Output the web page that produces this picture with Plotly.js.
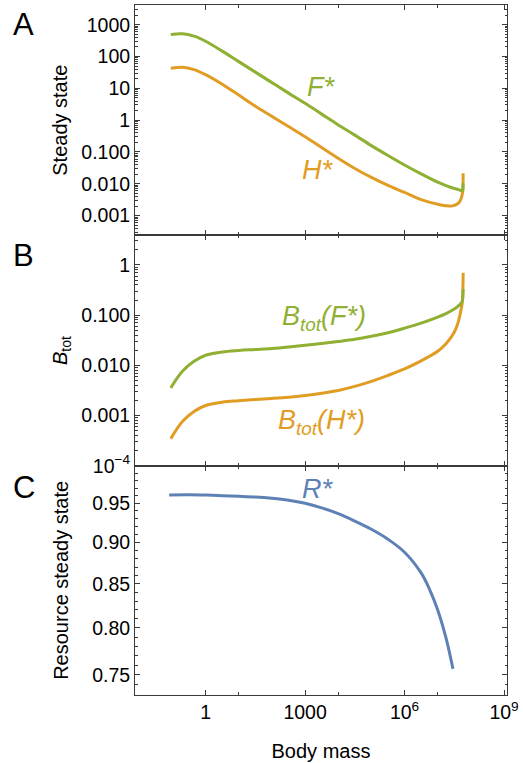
<!DOCTYPE html>
<html><head><meta charset="utf-8">
<script src="https://cdn.plot.ly/plotly-3.0.1.min.js"></script>
<style>html,body{margin:0;padding:0;background:#fff}#chart{width:523px;height:763px}</style>
</head><body><div id="chart"></div>
<script>
// Panel A: steady states F* and H* vs body mass
const massF = [0.0891, 0.1995, 0.4467, 1, 3.162, 10, 31.62, 100, 316.2, 1000, 3162, 1e4, 31620, 1e5, 3.162e5, 1e6, 3.162e6, 1e7, 1.778e7, 3.162e7, 4.467e7, 5.370e7, 5.689e7, 5.794e7, 5.834e7];
const Fstar = [489.8, 518.8, 436.5, 302.0, 147.9, 69.18, 32.36, 15.14, 7.079, 3.388, 1.549, 0.7079, 0.3388, 0.1585, 0.07762, 0.03890, 0.02042, 0.01122, 0.008710, 0.007079, 0.006457, 0.006026, 0.006310, 0.007586, 0.01047];
const massH = [0.0891, 0.1995, 0.4467, 1, 3.162, 10, 31.62, 100, 316.2, 1000, 3162, 1e4, 31620, 1e5, 3.162e5, 1e6, 3.162e6, 1e7, 1.778e7, 2.818e7, 3.981e7, 4.786e7, 5.248e7, 5.559e7, 5.728e7, 5.808e7, 5.848e7];
const Hstar = [42.66, 46.24, 38.90, 26.92, 13.49, 6.166, 2.754, 1.318, 0.6310, 0.3020, 0.1380, 0.06310, 0.03020, 0.01585, 0.008913, 0.005370, 0.003162, 0.002265, 0.002042, 0.002018, 0.002344, 0.002951, 0.003802, 0.005012, 0.006918, 0.01122, 0.02138];
// Panel B: total biomass
const massBF = [0.0891, 0.1995, 0.4467, 1, 3.162, 10, 31.62, 100, 316.2, 1000, 3162, 1e4, 31620, 1e5, 3.162e5, 1e6, 3.162e6, 1e7, 1.778e7, 3.162e7, 4.467e7, 5.248e7, 5.623e7, 5.781e7, 5.848e7];
const BtotF = [0.003548, 0.007586, 0.01202, 0.01585, 0.01841, 0.01972, 0.02065, 0.02163, 0.02317, 0.02512, 0.02723, 0.02985, 0.03311, 0.03802, 0.04467, 0.05495, 0.06918, 0.09120, 0.1072, 0.1318, 0.1585, 0.1778, 0.2042, 0.2512, 0.3311];
const massBH = [0.0891, 0.1995, 0.4467, 1, 3.162, 10, 31.62, 100, 316.2, 1000, 3162, 1e4, 31620, 1e5, 3.162e5, 1e6, 3.162e6, 1e7, 1.778e7, 3.162e7, 3.981e7, 4.571e7, 5.129e7, 5.495e7, 5.715e7, 5.808e7, 5.848e7];
const BtotH = [3.467e-4, 7.586e-4, 0.001202, 0.001585, 0.001841, 0.001972, 0.002089, 0.002188, 0.002317, 0.002512, 0.002786, 0.003162, 0.003802, 0.004786, 0.006310, 0.008511, 0.01230, 0.01905, 0.02692, 0.04571, 0.06607, 0.09333, 0.1349, 0.1738, 0.3020, 0.4677, 0.6998];
// Panel C: resource steady state
const massR = [0.0794, 0.3162, 1, 3.162, 10, 31.62, 100, 316.2, 1000, 3162, 1e4, 31620, 1e5, 3.162e5, 1e6, 3.162e6, 5.623e6, 1e7, 1.778e7, 2.884e7];
const Rstar = [0.9610, 0.9612, 0.9608, 0.9600, 0.9592, 0.9582, 0.9565, 0.9540, 0.9500, 0.9440, 0.9365, 0.9270, 0.9165, 0.9040, 0.8880, 0.8630, 0.8440, 0.8200, 0.7890, 0.7560];

// Tick labels
const xTickVals = [1, 1000, 1e6, 1e9];
const xTickText = ['1', '1000', '10<sup>6</sup>', '10<sup>9</sup>'];
const aTickVals = [0.001, 0.01, 0.1, 1, 10, 100, 1000];
const aTickText = ['0.001', '0.010', '0.100', '1', '10', '100', '1000'];
const bTickVals = [1e-4, 0.001, 0.01, 0.1, 1];
const bTickText = ['10<sup>\u22124</sup>', '0.001', '0.010', '0.100', '1'];
const cTickVals = [0.75, 0.80, 0.85, 0.90, 0.95];
const cTickText = ['0.75', '0.80', '0.85', '0.90', '0.95'];

const GREEN = '#8FB032', ORANGE = '#E19C24', BLUE = '#5E81B5';
const FONT = '"Liberation Sans", Arial, sans-serif';
const FRAME = '#3a3a3a';

function logMinor(lo, hi) {
  const v = [];
  for (let k = lo; k <= hi; k++) for (let d = 2; d <= 9; d++) v.push(d * Math.pow(10, k));
  return v;
}
const cMinor = [];
for (let i = 73; i <= 100; i++) { if (i % 5 !== 0 || i === 100) cMinor.push(i / 100); }

const lw = 3;
function line(color) { return {color: color, width: lw, shape: 'spline', smoothing: 1}; }
const traces = [
  {x: massH, y: Hstar, xaxis: 'x', yaxis: 'y', mode: 'lines', line: line(ORANGE), name: 'H*'},
  {x: massF, y: Fstar, xaxis: 'x', yaxis: 'y', mode: 'lines', line: line(GREEN), name: 'F*'},
  {x: massBH, y: BtotH, xaxis: 'x2', yaxis: 'y2', mode: 'lines', line: line(ORANGE), name: 'Btot(H*)'},
  {x: massBF, y: BtotF, xaxis: 'x2', yaxis: 'y2', mode: 'lines', line: line(GREEN), name: 'Btot(F*)'},
  {x: massR, y: Rstar, xaxis: 'x3', yaxis: 'y3', mode: 'lines', line: line(BLUE), name: 'R*'}
];

function xAxis(anchor, labels) {
  return {
    type: 'log', range: [-2.13, 9.09], anchor: anchor, domain: [0, 1],
    tickmode: 'array', tickvals: xTickVals, ticktext: xTickText, showticklabels: labels,
    ticks: 'inside', ticklen: 5, tickwidth: 1, tickcolor: FRAME,
    minor: {tickvals: [10, 1e4, 1e7], ticks: 'inside', ticklen: 3, tickcolor: FRAME},
    showline: true, linecolor: FRAME, linewidth: 1, mirror: 'ticks',
    showgrid: false, zeroline: false,
    tickfont: {family: FONT, size: 19.5, color: '#000'}
  };
}
function yAxis(domain, range, tv, tt, minorVals, title, standoff, anchor) {
  return {
    type: 'log', domain: domain, range: range, anchor: anchor,
    tickmode: 'array', tickvals: tv, ticktext: tt,
    ticks: 'inside', ticklen: 5, tickwidth: 1, tickcolor: FRAME,
    minor: {tickvals: minorVals, ticks: 'inside', ticklen: 2.5, tickcolor: FRAME},
    showline: true, linecolor: FRAME, linewidth: 1, mirror: 'ticks',
    showgrid: false, zeroline: false,
    tickfont: {family: FONT, size: 19.5, color: '#000'},
    title: {text: title, font: {family: FONT, size: 20, color: '#000'}, standoff: standoff}
  };
}

const layout = {
  width: 523, height: 763,
  margin: {l: 135, r: 16, t: 5, b: 68},
  paper_bgcolor: '#fff', plot_bgcolor: '#fff',
  showlegend: false,
  font: {family: FONT, color: '#000'},
  xaxis: xAxis('y', false),
  xaxis2: xAxis('y2', false),
  xaxis3: Object.assign(xAxis('y3', true), {title: {text: 'Body mass', font: {family: FONT, size: 20, color: '#000'}, standoff: 21}}),
  yaxis: yAxis([0.6662, 1], [-3.62, 3.62], aTickVals, aTickText, logMinor(-4, 3), 'Steady state', 8, 'x'),
  yaxis2: yAxis([0.3323, 0.6662], [-4.0, 0.59], bTickVals, bTickText, logMinor(-4, 0), '<i>B</i><sub>tot</sub>', 8, 'x2'),
  yaxis3: yAxis([0, 0.3323], [-0.1371, 0.0002], cTickVals, cTickText, cMinor, 'Resource steady state', 18, 'x3'),
  annotations: [
    {text: 'A', xref: 'paper', yref: 'paper', x: -0.2997, y: 0.9714, xanchor: 'center', yanchor: 'middle', showarrow: false, font: {family: FONT, size: 31, color: '#000'}},
    {text: 'B', xref: 'paper', yref: 'paper', x: -0.2992, y: 0.637, xanchor: 'center', yanchor: 'middle', showarrow: false, font: {family: FONT, size: 31, color: '#000'}},
    {text: 'C', xref: 'paper', yref: 'paper', x: -0.2984, y: 0.3014, xanchor: 'center', yanchor: 'middle', showarrow: false, font: {family: FONT, size: 31, color: '#000'}},
    {text: '<i>F*</i>', xref: 'x', yref: 'y', x: 3.466, y: 1.058, xanchor: 'center', yanchor: 'middle', showarrow: false, font: {family: FONT, size: 27, color: GREEN}},
    {text: '<i>H*</i>', xref: 'x', yref: 'y', x: 3.385, y: -1.563, xanchor: 'center', yanchor: 'middle', showarrow: false, font: {family: FONT, size: 27, color: ORANGE}},
    {text: '<i>B<sub>tot</sub>(F*)</i>', xref: 'x2', yref: 'y2', x: 3.565, y: -1.058, xanchor: 'center', yanchor: 'middle', showarrow: false, font: {family: FONT, size: 27, color: GREEN}},
    {text: '<i>B<sub>tot</sub>(H*)</i>', xref: 'x2', yref: 'y2', x: 3.50, y: -3.139, xanchor: 'center', yanchor: 'middle', showarrow: false, font: {family: FONT, size: 27, color: ORANGE}},
    {text: '<i>R*</i>', xref: 'x3', yref: 'y3', x: 3.385, y: -0.01373, xanchor: 'center', yanchor: 'middle', showarrow: false, font: {family: FONT, size: 27, color: BLUE}}
  ]
};

Plotly.newPlot('chart', traces, layout, {staticPlot: true, displayModeBar: false});
</script>
</body></html>
